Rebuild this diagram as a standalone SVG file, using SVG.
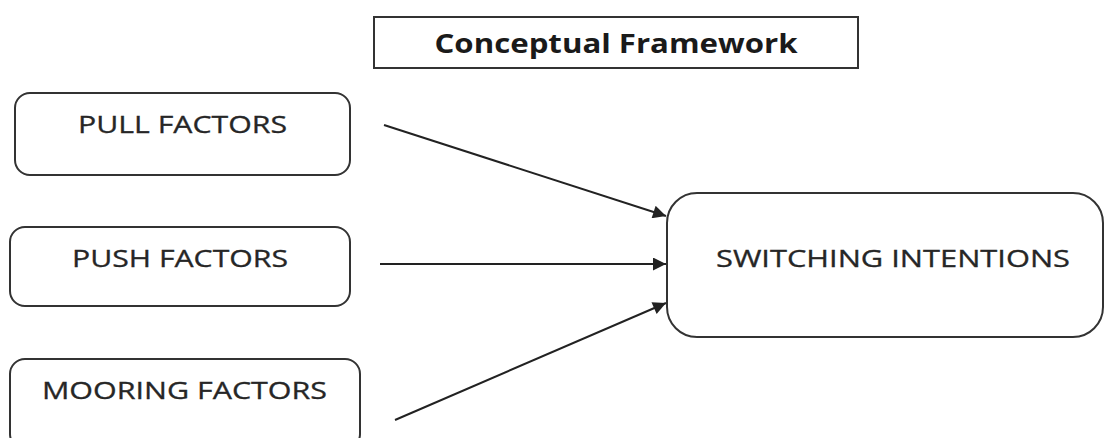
<svg xmlns="http://www.w3.org/2000/svg" width="1106" height="438" viewBox="0 0 1106 438">
<style>
.box{fill:#fff;stroke:#333;stroke-width:2}
.lbl{font-family:"Open Sans","Liberation Sans",sans-serif;font-size:24px;fill:#262626;stroke:#262626;stroke-width:0.3}
.title{font-family:"Open Sans","Liberation Sans",sans-serif;font-size:27px;font-weight:bold;fill:#1a1a1a}
.conn{stroke:#222;stroke-width:2;fill:none;marker-end:url(#ah)}
</style>
<defs>
<marker id="ah" viewBox="0 0 10 10" refX="10" refY="5" markerWidth="8.500" markerHeight="6.500" markerUnits="strokeWidth" orient="auto">
<path d="M0,0 L10,5 L0,10 z" fill="#222"/>
</marker>
</defs>
<rect width="1106" height="438" fill="#fff"/>
<g id="title">
<rect class="box" x="374" y="17" width="484" height="51"/>
<text class="title" x="616" y="53" text-anchor="middle" textLength="363" lengthAdjust="spacingAndGlyphs">Conceptual Framework</text>
</g>
<g id="pull">
<rect class="box" x="15" y="93" width="335" height="82" rx="15"/>
<text class="lbl" x="182.500" y="133" text-anchor="middle" textLength="209" lengthAdjust="spacingAndGlyphs">PULL FACTORS</text>
</g>
<g id="push">
<rect class="box" x="10" y="227" width="340" height="79" rx="15"/>
<text class="lbl" x="180" y="267" text-anchor="middle" textLength="216" lengthAdjust="spacingAndGlyphs">PUSH FACTORS</text>
</g>
<g id="mooring">
<rect class="box" x="10" y="359" width="350" height="90" rx="15"/>
<text class="lbl" x="184.500" y="399" text-anchor="middle" textLength="285" lengthAdjust="spacingAndGlyphs">MOORING FACTORS</text>
</g>
<g id="switching">
<rect class="box" x="667" y="193" width="436" height="144" rx="30"/>
<text class="lbl" x="893" y="267" text-anchor="middle" font-size="26" textLength="354" lengthAdjust="spacingAndGlyphs">SWITCHING INTENTIONS</text>
</g>
<g id="connectors">
<line class="conn" x1="384" y1="125" x2="666" y2="216"/>
<line class="conn" x1="380" y1="264" x2="666" y2="264"/>
<line class="conn" x1="395" y1="420" x2="666" y2="303"/>
</g>
</svg>
